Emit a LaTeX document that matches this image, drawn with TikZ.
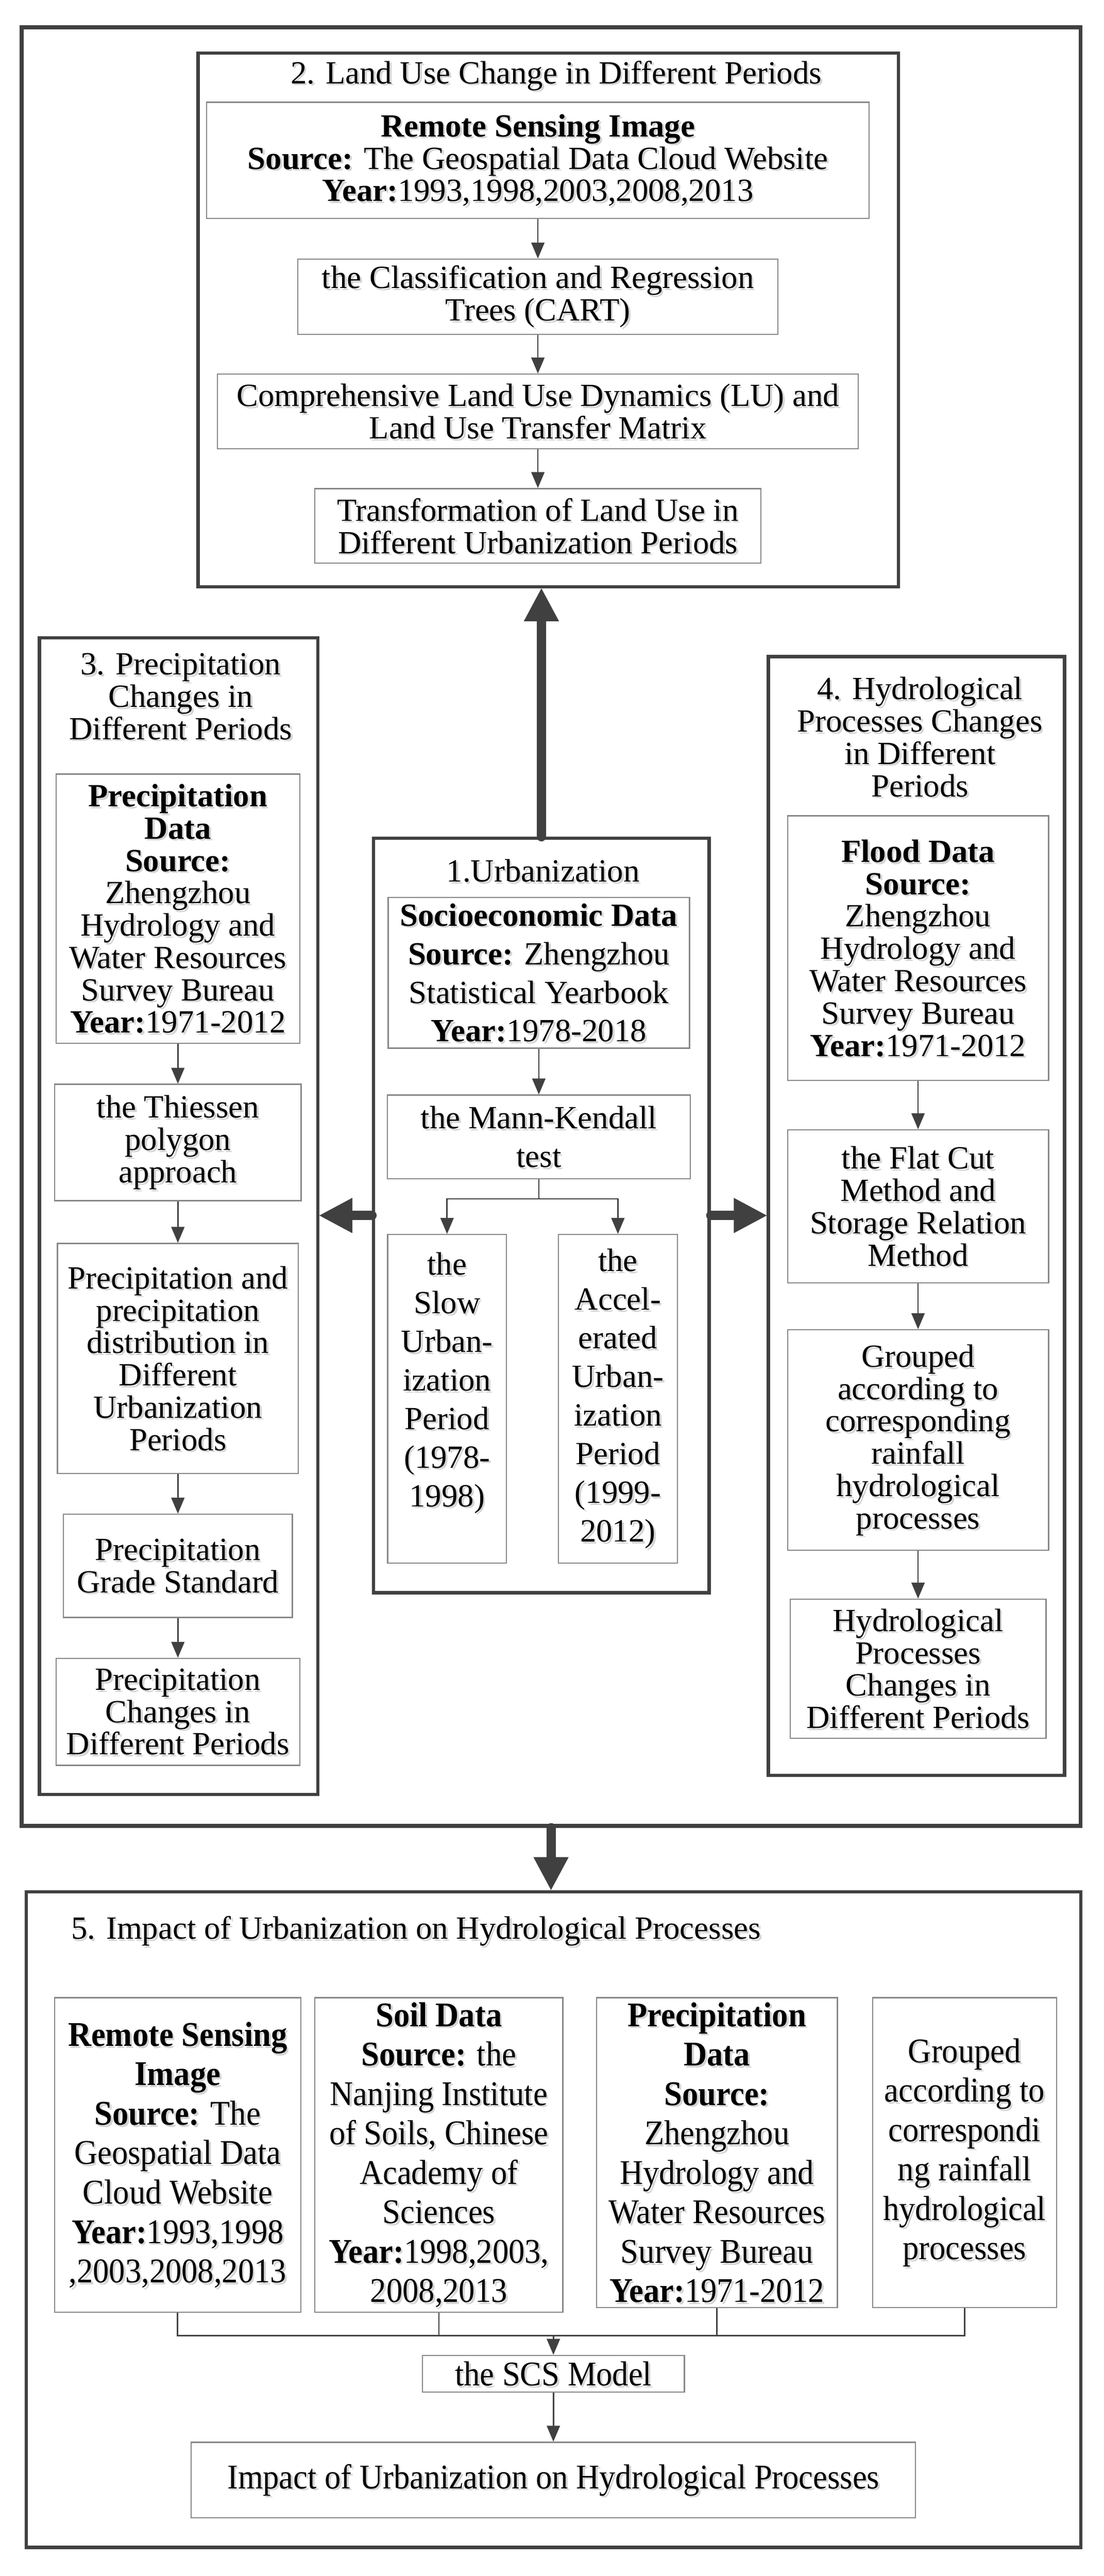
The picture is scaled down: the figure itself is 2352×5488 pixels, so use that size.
\documentclass[tikz,border=0pt]{standalone}
\usepackage{fontspec}
\setmainfont{Liberation Serif}
\newfontfamily\condfont[FakeStretch=0.93]{Liberation Serif}
\usetikzlibrary{arrows.meta}
\definecolor{dk}{RGB}{64,64,64}
\definecolor{bx}{RGB}{135,135,135}
\definecolor{shd}{RGB}{212,212,212}
% text node with a light offset shadow: #1 style, #2 name, #3 position, #4 text
\newcommand\tn[4]{%
  \node[#1, draw=none, text=shd, xshift=0.4mm, yshift=-0.4mm] (#2-s) at #3 {#4};
  \node[#1] (#2) at #3 {#4};}
\begin{document}
\begin{tikzpicture}[x=0.1mm,y=-0.1mm,
  outerbox/.style={draw=dk, line width=0.8mm, inner sep=0pt},
  secbox/.style={draw=dk, line width=0.7mm, inner sep=0pt},
  ibox/.style={draw=bx, line width=0.25mm, inner sep=0pt, align=center,
    font=\fontsize{19.6pt}{19.6pt}\selectfont},
  ubox/.style={ibox, font=\fontsize{19.6pt}{23.4pt}\selectfont},
  vbox/.style={ibox, font=\condfont\fontsize{21pt}{23.9pt}\selectfont},
  ttl/.style={inner sep=0pt, align=center, font=\fontsize{19.6pt}{19.6pt}\selectfont},
  arr/.style={draw=dk, line width=0.3mm, -{Triangle[length=3.4mm,width=2.8mm]}},
  ln/.style={draw=dk, line width=0.3mm},
  bigarr/.style={draw=dk, line width=2mm, line cap=round,
    -{Triangle[length=7mm,width=7.5mm,line width=0pt]}}
]
\fill[white] (0,0) rectangle (2352,5488);
\useasboundingbox (0,0) rectangle (2352,5488);

% outer frame
\node[outerbox, minimum width=225.6mm, minimum height=383.2mm] (outer) at (1174,1974) {};

% ---------- section 2 ----------
\node[secbox, minimum width=149.2mm, minimum height=113.7mm] (s2) at (1168,681.5) {};
\tn{ttl}{t2}{(1185,161)}{2. Land Use Change in Different Periods}
\tn{ibox, minimum width=141.2mm, minimum height=24.7mm}{r2a}{(1146,341.5)}
  {\textbf{Remote Sensing Image}\\\textbf{Source:} The Geospatial Data Cloud Website\\\textbf{Year:}1993,1998,2003,2008,2013}
\tn{ibox, minimum width=102.3mm, minimum height=16mm}{r2b}{(1146,632)}
  {the Classification and Regression\\Trees (CART)}
\tn{ibox, minimum width=136.5mm, minimum height=15.9mm}{r2c}{(1146,876.5)}
  {Comprehensive Land Use Dynamics (LU) and\\Land Use Transfer Matrix}
\tn{ibox, minimum width=95mm, minimum height=15.9mm}{r2d}{(1146,1120.5)}
  {Transformation of Land Use in\\Different Urbanization Periods}
\draw[arr] (r2a) -- (r2b);
\draw[arr] (r2b) -- (r2c);
\draw[arr] (r2c) -- (r2d);

% ---------- section 3 ----------
\node[secbox, minimum width=59.3mm, minimum height=246.4mm] (s3) at (380.5,2591) {};
\tn{ttl}{t3}{(385,1484)}{3. Precipitation\\Changes in\\Different Periods}
\tn{ibox, minimum width=51.9mm, minimum height=57.4mm}{p3a}{(379,1936)}
  {\textbf{Precipitation}\\\textbf{Data}\\\textbf{Source:}\\Zhengzhou\\Hydrology and\\Water Resources\\Survey Bureau\\\textbf{Year:}1971-2012}
\tn{ibox, minimum width=52.5mm, minimum height=24.8mm}{p3b}{(379,2434)}
  {the Thiessen\\polygon\\approach}
\tn{ibox, minimum width=51.3mm, minimum height=49mm}{p3c}{(379,2894)}
  {Precipitation and\\precipitation\\distribution in\\Different\\Urbanization\\Periods}
\tn{ibox, minimum width=48.8mm, minimum height=22mm}{p3d}{(379,3336)}
  {Precipitation\\Grade Standard}
\tn{ibox, minimum width=51.9mm, minimum height=22.8mm}{p3e}{(379,3647)}
  {Precipitation\\Changes in\\Different Periods}
\draw[arr] (p3a) -- (p3b);
\draw[arr] (p3b) -- (p3c);
\draw[arr] (p3c) -- (p3d);
\draw[arr] (p3d) -- (p3e);

% ---------- section 1 ----------
\node[secbox, minimum width=71.5mm, minimum height=160.7mm] (s1) at (1153.5,2589.5) {};
\tn{ttl}{t1}{(1157,1855)}{1.Urbanization}
\tn{ubox, minimum width=64.2mm, minimum height=32.1mm}{u1a}{(1148,2072.5)}
  {\textbf{Socioeconomic Data}\\\textbf{Source:} Zhengzhou\\Statistical Yearbook\\\textbf{Year:}1978-2018}
\tn{ubox, minimum width=64.6mm, minimum height=17.8mm}{u1b}{(1148,2422)}
  {the Mann-Kendall\\test}
\tn{ubox, minimum width=25.3mm, minimum height=70mm}{u1c}{(952.5,2980)}
  {the\\Slow\\Urban-\\ization\\Period\\(1978-\\1998)\\\mbox{}}
\tn{ubox, minimum width=25.3mm, minimum height=70mm}{u1d}{(1316.5,2980)}
  {the\\Accel-\\erated\\Urban-\\ization\\Period\\(1999-\\2012)}
\coordinate (br) at (1148,2554);
\draw[arr] (u1a) -- (u1b);
\draw[ln] (u1b.south) -- (br);
\draw[arr] (br) -| (u1c.north);
\draw[arr] (br) -| (u1d.north);

% ---------- section 4 ----------
\node[secbox, minimum width=63.1mm, minimum height=238.3mm] (s4) at (1952.5,2590.5) {};
\tn{ttl}{t4}{(1960,1570)}{4. Hydrological\\Processes Changes\\in Different\\Periods}
\tn{ibox, minimum width=55.6mm, minimum height=56.4mm}{h4a}{(1956,2020)}
  {\textbf{Flood Data}\\\textbf{Source:}\\Zhengzhou\\Hydrology and\\Water Resources\\Survey Bureau\\\textbf{Year:}1971-2012}
\tn{ibox, minimum width=55.6mm, minimum height=32.6mm}{h4b}{(1956,2570)}
  {the Flat Cut\\Method and\\Storage Relation\\Method}
\tn{ibox, minimum width=55.6mm, minimum height=47mm}{h4c}{(1956,3068)}
  {Grouped\\according to\\corresponding\\rainfall\\hydrological\\processes}
\tn{ibox, minimum width=54.5mm, minimum height=29.6mm}{h4d}{(1956,3555)}
  {Hydrological\\Processes\\Changes in\\Different Periods}
\draw[arr] (h4a) -- (h4b);
\draw[arr] (h4b) -- (h4c);
\draw[arr] (h4c) -- (h4d);

% thick arrows
\draw[bigarr] (s1.north) -- (s1.north |- s2.south);
\draw[bigarr] (s1.west) -- (s3.east |- s1.west);
\draw[bigarr] (s1.east) -- (s4.west |- s1.east);

% ---------- section 5 ----------
\node[secbox, minimum width=224.7mm, minimum height=139.7mm] (s5) at (1179.5,4728.5) {};
\draw[bigarr] (outer.south) -- (outer.south |- s5.north);
\tn{ttl, anchor=west}{t5}{(151,4114)}{5. Impact of Urbanization on Hydrological Processes}
\tn{vbox, minimum width=52.5mm, minimum height=67mm}{v5a}{(378.5,4591)}
  {\textbf{Remote Sensing}\\\textbf{Image}\\\textbf{Source:} The\\Geospatial Data\\Cloud Website\\\textbf{Year:}1993,1998\\,2003,2008,2013}
\tn{vbox, minimum width=52.8mm, minimum height=67mm}{v5b}{(935,4591)}
  {\textbf{Soil Data}\\\textbf{Source:} the\\Nanjing Institute\\of Soils, Chinese\\Academy of\\Sciences\\\textbf{Year:}1998,2003,\\2008,2013}
\tn{vbox, minimum width=51.3mm, minimum height=66mm}{v5c}{(1527.5,4586)}
  {\textbf{Precipitation}\\\textbf{Data}\\\textbf{Source:}\\Zhengzhou\\Hydrology and\\Water Resources\\Survey Bureau\\\textbf{Year:}1971-2012}
\tn{vbox, minimum width=39.2mm, minimum height=66mm}{v5d}{(2055,4586)}
  {Grouped\\according to\\correspondi\\ng rainfall\\hydrological\\processes}
\tn{vbox, minimum width=55.8mm, minimum height=7.8mm}{scs}{(1179,5057)}{the SCS Model}
\tn{vbox, minimum width=154.3mm, minimum height=16.1mm}{imp}{(1179,5283.5)}
  {Impact of Urbanization on Hydrological Processes}
\coordinate (m5) at (1179,4976);
\draw[ln] (v5a.south) |- (m5);
\draw[ln] (v5b.south) |- (m5);
\draw[ln] (v5c.south) |- (m5);
\draw[ln] (v5d.south) |- (m5);
\draw[arr] (m5) -- (scs.north);
\draw[arr] (scs) -- (imp);
\end{tikzpicture}
\end{document}
